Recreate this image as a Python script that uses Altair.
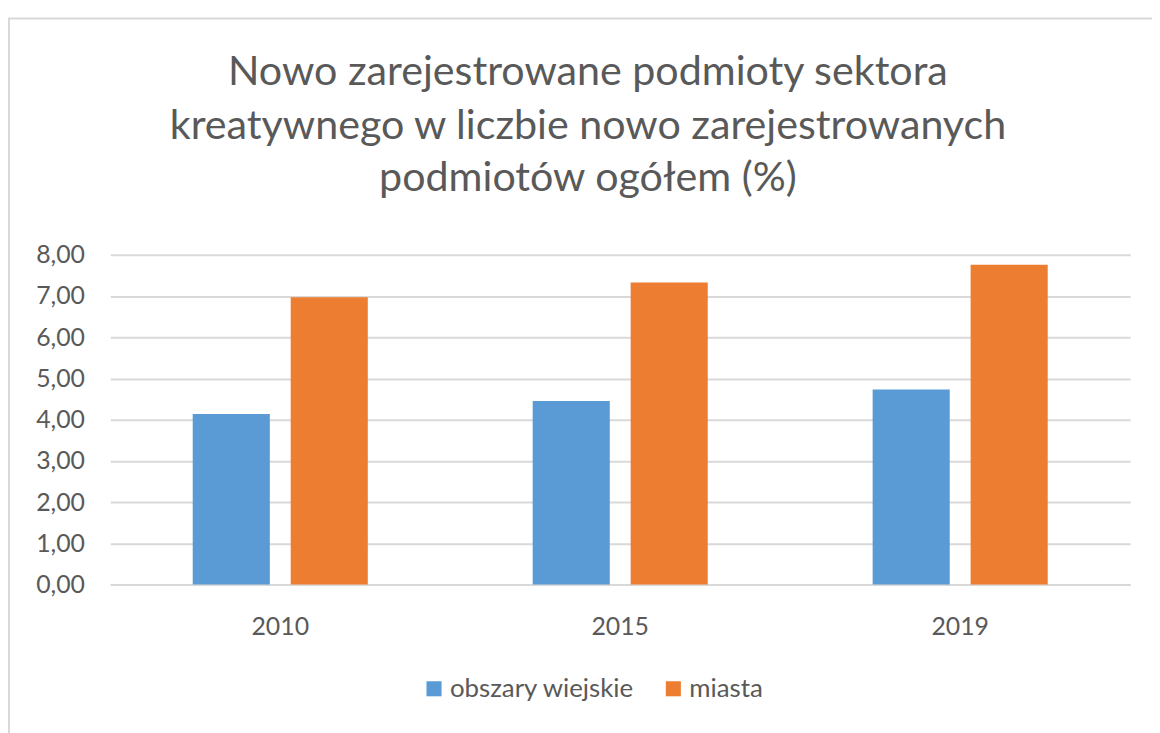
import altair as alt
import pandas as pd

years = ["2010", "2015", "2019"]
series = ["obszary wiejskie", "miasta"]
rural = [4.14, 4.45, 4.73]
urban = [6.97, 7.33, 7.76]
colors = ["#5B9BD5", "#ED7D31"]
title_lines = ["Nowo zarejestrowane podmioty sektora",
               "kreatywnego w liczbie nowo zarejestrowanych",
               "podmiotów ogółem (%)"]

rows = []
for i, y in enumerate(years):
    rows.append({"rok": y, "seria": series[0], "wartosc": rural[i]})
    rows.append({"rok": y, "seria": series[1], "wartosc": urban[i]})
df = pd.DataFrame(rows)

FONT = "Lato"
GREY = "#595959"

bars = alt.Chart(df).mark_bar().encode(
    x=alt.X("rok:N", sort=years,
            scale=alt.Scale(paddingInner=0.485, paddingOuter=0.2425),
            axis=alt.Axis(title=None, labelAngle=0, labelFontSize=25, labelColor=GREY,
                          labelFont=FONT, labelPadding=30, ticks=False,
                          domain=True, domainColor="#d9d9d9", domainWidth=2, grid=False)),
    xOffset=alt.XOffset("seria:N", sort=series,
                        scale=alt.Scale(paddingInner=0.213, paddingOuter=0)),
    y=alt.Y("wartosc:Q", scale=alt.Scale(domain=[0, 8], nice=False),
            axis=alt.Axis(title=None, values=[0, 1, 2, 3, 4, 5, 6, 7, 8],
                          labelExpr="replace(format(datum.value, '.2f'), '.', ',')",
                          labelFontSize=25, labelColor=GREY, labelFont=FONT,
                          labelPadding=26, ticks=False, domain=False,
                          gridColor="#d9d9d9", gridWidth=2)),
    color=alt.Color("seria:N", sort=series,
                    scale=alt.Scale(domain=series, range=colors),
                    legend=alt.Legend(title=None, orient="none", legendX=313, legendY=424,
                                      direction="horizontal", symbolType="square",
                                      symbolSize=230, symbolStrokeWidth=0,
                                      labelFontSize=26, labelColor=GREY, labelFont=FONT,
                                      labelOffset=3, columnPadding=26, labelLimit=500)),
)

frame = alt.Chart(alt.Data(values=[{}])).mark_rect(
    fill=None, stroke="#d9d9d9", strokeWidth=2
).encode(
    x=alt.value(-102), x2=alt.value(1300), y=alt.value(-238), y2=alt.value(700)
)

title_y = [-171, -117, -64]
title_layers = [
    alt.Chart(alt.Data(values=[{"t": line}])).mark_text(
        font=FONT, fontSize=41.5, color=GREY, align="center", baseline="alphabetic"
    ).encode(text="t:N", x=alt.value(481), y=alt.value(title_y[i]))
    for i, line in enumerate(title_lines)
]

chart = alt.layer(frame, bars, *title_layers).properties(
    width=1027, height=332,
    background="white",
    autosize=alt.AutoSizeParams(type="none"),
    padding={"left": 103, "top": 246, "right": 22, "bottom": 147},
).configure_view(stroke=None)

chart.save("out.html", embed_options={"renderer": "svg", "actions": False})
